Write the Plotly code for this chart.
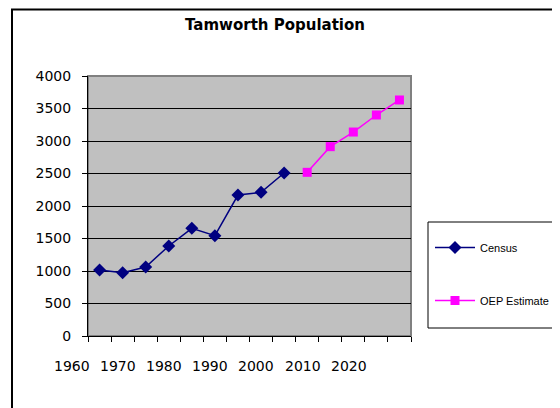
import plotly.graph_objects as go

# ---- data ----
census_years = [1966, 1971, 1976, 1981, 1986, 1991, 1996, 2001, 2006]
census_values = [1015, 974, 1062, 1385, 1656, 1544, 2169, 2210, 2508]
oep_years = [2011, 2016, 2021, 2026, 2031]
oep_values = [2518, 2913, 3138, 3400, 3631]
x_label_vals = [1960, 1970, 1980, 1990, 2000, 2010, 2020]
x_label_text = [str(v) for v in x_label_vals]
title_text = "Tamworth Population"

W, H = 560, 408
OFF = 8  # page body margin
def px(x):
    return (x - OFF) / W
def py(y):
    return 1 - (y - OFF) / H

PL, PR, PT, PB = 88, 411, 76, 336
xr0, xr1 = 1963.5, 2033.5

fig = go.Figure()
fig.add_trace(go.Scatter(
    x=census_years, y=census_values, name="Census", mode="lines+markers",
    line=dict(color="#000080", width=1.5),
    marker=dict(symbol="diamond", size=10, color="#000080"),
    legendgroup="a",
))
fig.add_trace(go.Scatter(
    x=oep_years, y=oep_values, name="OEP Estimate", mode="lines+markers",
    line=dict(color="#FF00FF", width=1.5),
    marker=dict(symbol="square", size=9, color="#FF00FF"),
    legendgroup="b",
))

tick_pos = [xr0 + 5 * k for k in range(15)]

annotations = [
    dict(x=(v - xr0) / (xr1 - xr0), y=py(366), xref="x domain", yref="paper", text=t,
         showarrow=False, xanchor="center", yanchor="middle",
         font=dict(family="DejaVu Sans", size=14, color="black"))
    for v, t in zip(x_label_vals, x_label_text)
]

fig.update_layout(
    template="none",
    width=W, height=H, autosize=False,
    margin=dict(l=0, r=0, t=0, b=0, pad=0),
    paper_bgcolor="white", plot_bgcolor="#C0C0C0",
    title=dict(text=title_text, x=px(275), xanchor="center", y=py(25), yanchor="middle",
               font=dict(family="DejaVu Sans", size=15, color="black", weight="bold")),
    xaxis=dict(domain=[px(PL), px(PR)], range=[xr0, xr1], tickvals=tick_pos,
               showticklabels=False, ticks="outside", ticklen=5, tickcolor="black",
               showline=True, linecolor="black", linewidth=1, showgrid=False, zeroline=False,
               automargin=False),
    yaxis=dict(domain=[py(PB), py(PT)], range=[0, 4000], dtick=500,
               ticks="outside", ticklen=5, tickcolor="black",
               showline=True, linecolor="black", linewidth=1,
               showgrid=True, gridcolor="black", gridwidth=1, zeroline=False,
               ticklabelstandoff=8, automargin=False,
               tickfont=dict(family="DejaVu Sans", size=14, color="black")),
    legend=dict(x=px(430), y=py(233), xanchor="left", yanchor="top",
                bgcolor="rgba(0,0,0,0)", borderwidth=0, itemwidth=40,
                traceorder="grouped", tracegroupgap=34,
                font=dict(family="Liberation Sans", size=11, color="black")),
    annotations=annotations,
    shapes=[
        dict(type="rect", xref="paper", yref="paper", x0=px(PL), x1=px(PR), y0=py(PB), y1=py(PT),
             line=dict(color="#808080", width=2), layer="below"),
        dict(type="rect", xref="paper", yref="paper", x0=px(12), x1=1.2, y0=-0.2, y1=py(9.5),
             line=dict(color="black", width=2)),
        dict(type="rect", xref="paper", yref="paper", x0=px(428), x1=px(553), y0=py(328), y1=py(222),
             line=dict(color="black", width=1), fillcolor="white", layer="above"),
    ],
    hovermode=False,
)

fig.write_html("out.html")
